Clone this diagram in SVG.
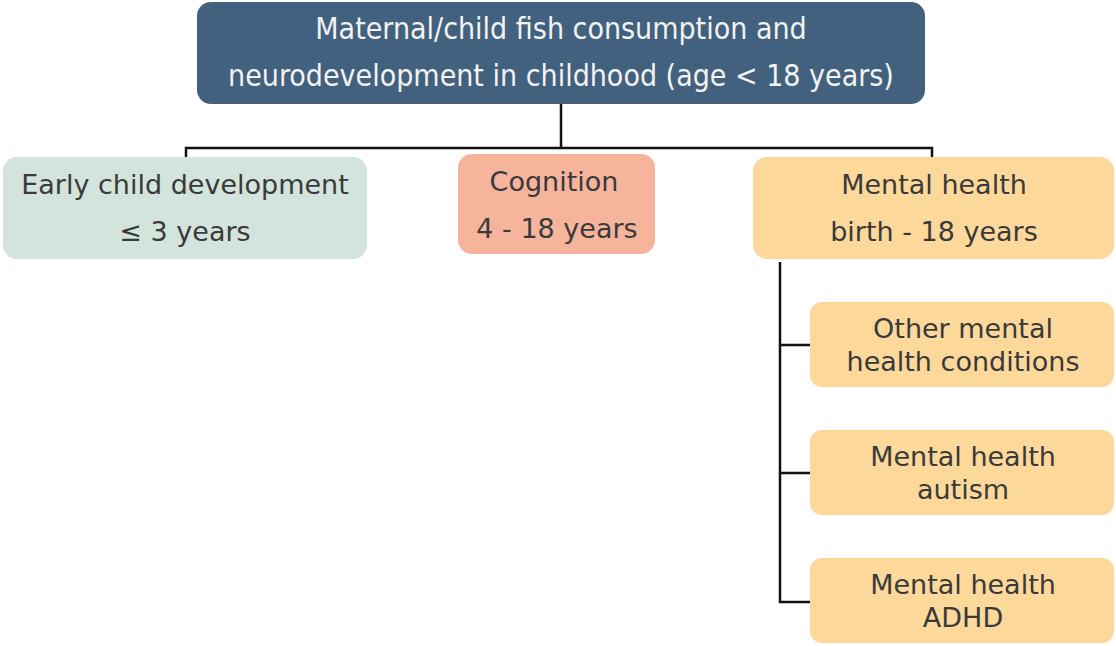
<svg xmlns="http://www.w3.org/2000/svg" width="1116" height="646" viewBox="0 0 1116 646">
<style>
text{font-family:"DejaVu Sans",Verdana,sans-serif;font-size:27px;fill:#3a3a3a;text-anchor:middle}
.top text{font-family:"DejaVu Sans Condensed","DejaVu Sans",sans-serif;font-size:30px;fill:#f2f2f2}
.ln{fill:none;stroke:#111;stroke-width:2.5}
</style>
<rect width="1116" height="646" fill="#fff"/>
<g id="connectors">
<path class="ln" d="M561,104 V148 M186,157 V148 H932 V157"/>
<path class="ln" d="M780,262 V602 H810 M780,345 H810 M780,473 H810"/>
</g>
<g id="root" class="top">
<rect x="197" y="2" width="728" height="102" rx="14" fill="#41617e"/>
<text x="561" y="39">Maternal/child fish consumption and</text>
<text x="561" y="86">neurodevelopment in childhood (age &lt; 18 years)</text>
</g>
<g id="early">
<rect x="3" y="157" width="364" height="102" rx="14" fill="#d3e4dc"/>
<text x="185" y="194">Early child development</text>
<text x="185" y="241">≤ 3 years</text>
</g>
<g id="cognition">
<rect x="458" y="154" width="197" height="100" rx="14" fill="#f5b49b"/>
<text x="554" y="191">Cognition</text>
<text x="557" y="238">4 - 18 years</text>
</g>
<g id="mental">
<rect x="753" y="157" width="361" height="102" rx="14" fill="#fdd89b"/>
<text x="934" y="194">Mental health</text>
<text x="934" y="241">birth - 18 years</text>
</g>
<g id="other">
<rect x="810" y="302" width="304" height="85" rx="12" fill="#fdd89b"/>
<text x="963" y="338">Other mental</text>
<text x="963" y="371">health conditions</text>
</g>
<g id="autism">
<rect x="810" y="430" width="304" height="85" rx="12" fill="#fdd89b"/>
<text x="963" y="466">Mental health</text>
<text x="963" y="499">autism</text>
</g>
<g id="adhd">
<rect x="810" y="558" width="304" height="85" rx="12" fill="#fdd89b"/>
<text x="963" y="594">Mental health</text>
<text x="963" y="627">ADHD</text>
</g>
</svg>
